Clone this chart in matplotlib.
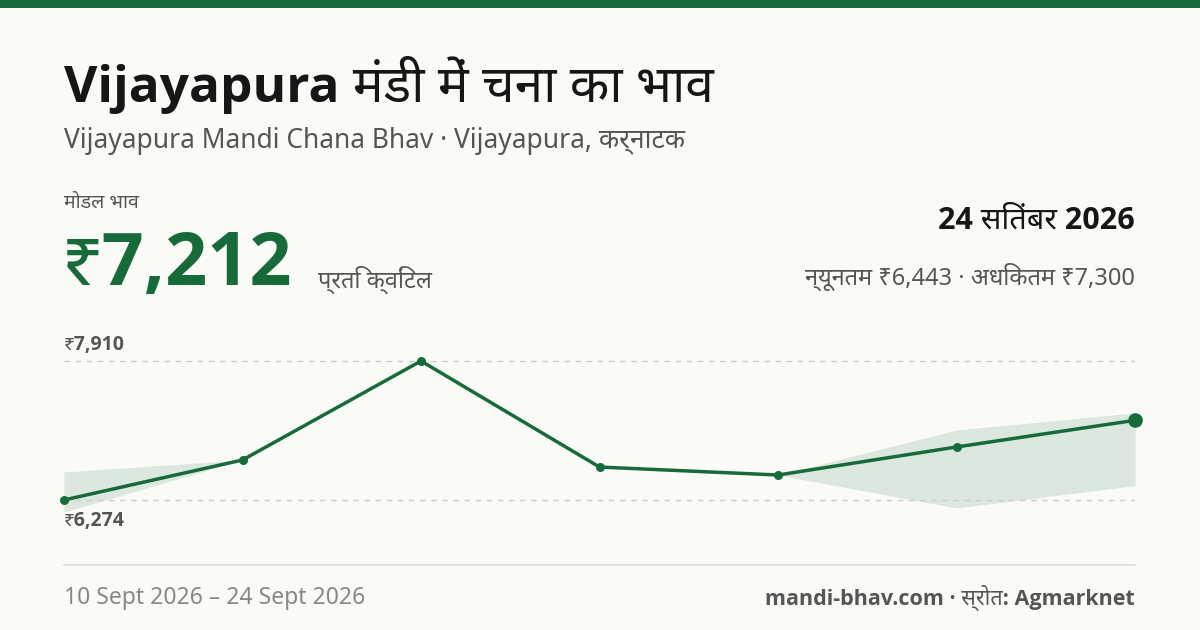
import matplotlib
matplotlib.use("Agg")
import matplotlib.pyplot as plt
from matplotlib.lines import Line2D

plt.rcParams['font.family'] = ['Noto Sans', 'Noto Sans Devanagari', 'Lohit Devanagari', 'FreeSans', 'DejaVu Sans']
BOLDFAM = ['Open Sans', 'Noto Sans Devanagari', 'DejaVu Sans']

dates = ["10 Sept", "12 Sept", "14 Sept", "17 Sept", "19 Sept", "22 Sept", "24 Sept"]
modal = [6274, 6745, 7910, 6662, 6568, 6898, 7212]
minp = [6133, 6745, 7910, 6662, 6568, 6180, 6443]
maxp = [6604, 6745, 7910, 6662, 6568, 7098, 7300]

GREEN = "#176b3a"
BG = "#fafaf6"
W, H = 1200, 630
fig = plt.figure(figsize=(12, 6.3), dpi=100, facecolor=BG)

def fx(px): return px / W
def fy(py): return 1 - py / H

fig.add_artist(plt.Rectangle((0, fy(8)), 1, 8 / H, transform=fig.transFigure, color=GREEN, lw=0))
fig.text(fx(64), fy(85), "Vijayapura मंडी में चना का भाव", fontsize=37, fontweight='bold', family=BOLDFAM, color="#161616", va='center')
fig.text(fx(64), fy(141), "Vijayapura Mandi Chana Bhav · Vijayapura, कर्नाटक", fontsize=19, color="#555555", va='center')
fig.text(fx(64), fy(203), "मोडल भाव", fontsize=14, color="#555555", va='center')
fig.text(fx(62), fy(266), "₹7,212", fontsize=53, fontweight='bold', family=BOLDFAM, color=GREEN, va='center')
fig.text(fx(318), fy(280), "प्रति क्विंटल", fontsize=17, color="#555555", va='center')
fig.text(fx(1135), fy(220), "24 सितंबर 2026", fontsize=22, fontweight='bold', family=BOLDFAM, color="#161616", va='center', ha='right')
fig.text(fx(1135), fy(277), "न्यूनतम ₹6,443 · अधिकतम ₹7,300", fontsize=17, color="#555555", va='center', ha='right')

scale = (7910 - 6274) / (500 - 361)
ymin = 6274 - 20 * scale
ymax = 7910 + 21 * scale
ax = fig.add_axes([fx(64), fy(520), (1135 - 64) / W, 180 / H])
ax.set_facecolor('none')
x = list(range(len(modal)))
ax.set_xlim(0, len(modal) - 1)
ax.set_ylim(ymin, ymax)
ax.axis('off')
ax.fill_between(x, minp, maxp, color="#dce8df", lw=0)
for v in (7910, 6274):
    ax.plot([0, len(modal) - 1], [v, v], ls=(0, (4, 4)), color="#cccccc", lw=1)
ax.plot(x, modal, color=GREEN, lw=2.5, clip_on=False)
ax.scatter(x[:-1], modal[:-1], s=30, color=GREEN, zorder=3, clip_on=False)
ax.scatter(x[-1:], modal[-1:], s=90, color=GREEN, zorder=3, clip_on=False)

fig.text(fx(64), fy(345), "₹7,910", fontsize=14, fontweight='bold', family=BOLDFAM, color="#555555", va='center')
fig.text(fx(64), fy(521), "₹6,274", fontsize=14, fontweight='bold', family=BOLDFAM, color="#555555", va='center')

fig.add_artist(Line2D([fx(64), fx(1135)], [fy(565), fy(565)], transform=fig.transFigure, color="#dddddd", lw=1.2))
fig.text(fx(64), fy(598), "10 Sept 2026 – 24 Sept 2026", fontsize=16.5, color="#888888", va='center')
fig.text(fx(1135), fy(598), "mandi-bhav.com · स्रोत: Agmarknet", fontsize=15.5, fontweight='bold', family=BOLDFAM, color="#555555", va='center', ha='right')

fig.savefig("out.png", dpi=100, facecolor=BG)
